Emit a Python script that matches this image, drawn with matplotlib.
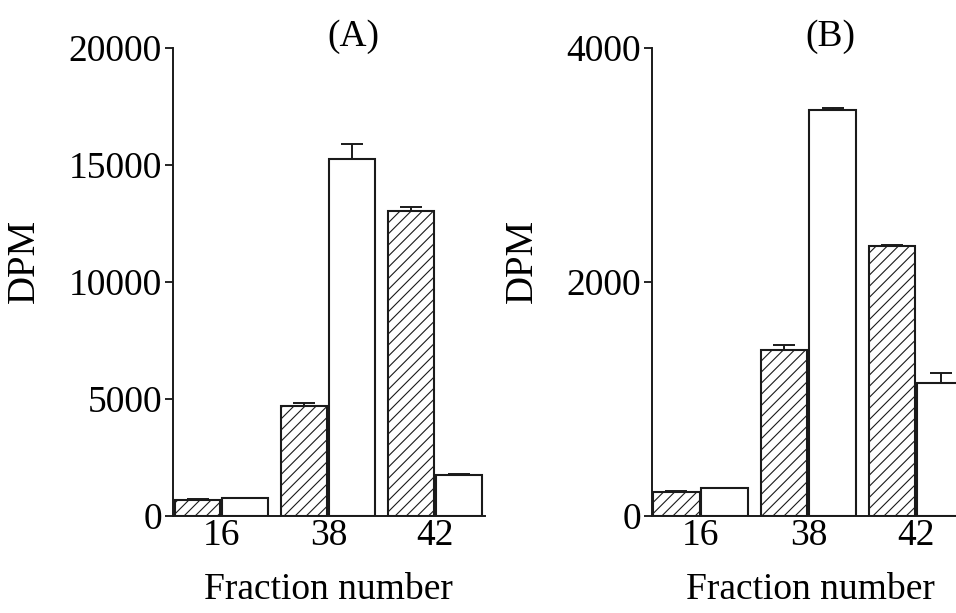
import matplotlib
matplotlib.use('Agg')
import matplotlib.pyplot as plt
import numpy as np

plt.rcParams['font.family'] = ['Liberation Serif', 'DejaVu Serif']
plt.rcParams['hatch.linewidth'] = 0.8

fractions = ['16', '38', '42']

# Panel A
a_hatched = [700, 4700, 13050]
a_hatched_err = [40, 130, 170]
a_open = [760, 15250, 1750]
a_open_err = [30, 650, 70]

# Panel B
b_hatched = [205, 1420, 2310]
b_hatched_err = [10, 40, 10]
b_open = [240, 3470, 1140]
b_open_err = [0, 20, 80]

FS = 27


def draw_panel(ax, hatched, hatched_err, open_, open_err, ymax, yticks,
               title, title_x, xlim):
    x = np.arange(len(fractions))
    w = 0.43
    off = 0.224
    ax.bar(x - off, hatched, w, color='white', edgecolor='#1a1a1a', hatch='///',
           linewidth=1.5, zorder=2)
    ax.bar(x + off, open_, w, color='white', edgecolor='#1a1a1a',
           linewidth=1.5, zorder=2)
    ax.errorbar(x - off, hatched, yerr=[np.zeros(3), hatched_err], fmt='none',
                ecolor='#1a1a1a', elinewidth=1.4, capsize=8, capthick=1.4, zorder=3)
    ax.errorbar(x + off, open_, yerr=[np.zeros(3), open_err], fmt='none',
                ecolor='#1a1a1a', elinewidth=1.4, capsize=8, capthick=1.4, zorder=3)
    ax.set_ylim(0, ymax)
    ax.set_xlim(*xlim)
    ax.set_yticks(yticks)
    ax.set_yticklabels([str(t) for t in yticks], fontsize=FS)
    ax.set_xticks(x)
    ax.set_xticklabels(fractions, fontsize=FS)
    ax.tick_params(axis='x', length=0, pad=2)
    ax.tick_params(axis='y', direction='out', length=6, width=1.2, pad=2)
    for s in ['top', 'right']:
        ax.spines[s].set_visible(False)
    for s in ['left', 'bottom']:
        ax.spines[s].set_linewidth(1.4)
        ax.spines[s].set_color('#1a1a1a')
    ax.set_ylabel('DPM', fontsize=FS + 1)
    ax.set_xlabel('Fraction number', fontsize=FS, labelpad=14)
    ax.text(title_x, 1.024, title, transform=ax.transAxes, fontsize=FS,
            ha='center', va='center')


fig = plt.figure(figsize=(9.56, 6.13), dpi=100)
ax1 = fig.add_axes([0.181, 0.158, 0.326, 0.764])
ax2 = fig.add_axes([0.682, 0.158, 0.3305, 0.764])

draw_panel(ax1, a_hatched, a_hatched_err, a_open, a_open_err, 20000,
           [0, 5000, 10000, 15000, 20000], '(A)', 0.58, (-0.453, 2.463))
draw_panel(ax2, b_hatched, b_hatched_err, b_open, b_open_err, 4000,
           [0, 2000, 4000], '(B)', 0.566, (-0.449, 2.477))

# y labels: right edge of the rotated text at a fixed pixel column
for ax, xpx in ((ax1, 43), (ax2, 541)):
    bbox = ax.get_position()
    left_px = bbox.x0 * fig.bbox.width
    width_px = bbox.width * fig.bbox.width
    ax.yaxis.set_label_coords((xpx - left_px) / width_px, 0.545)

fig.savefig('out.png', dpi=100)
